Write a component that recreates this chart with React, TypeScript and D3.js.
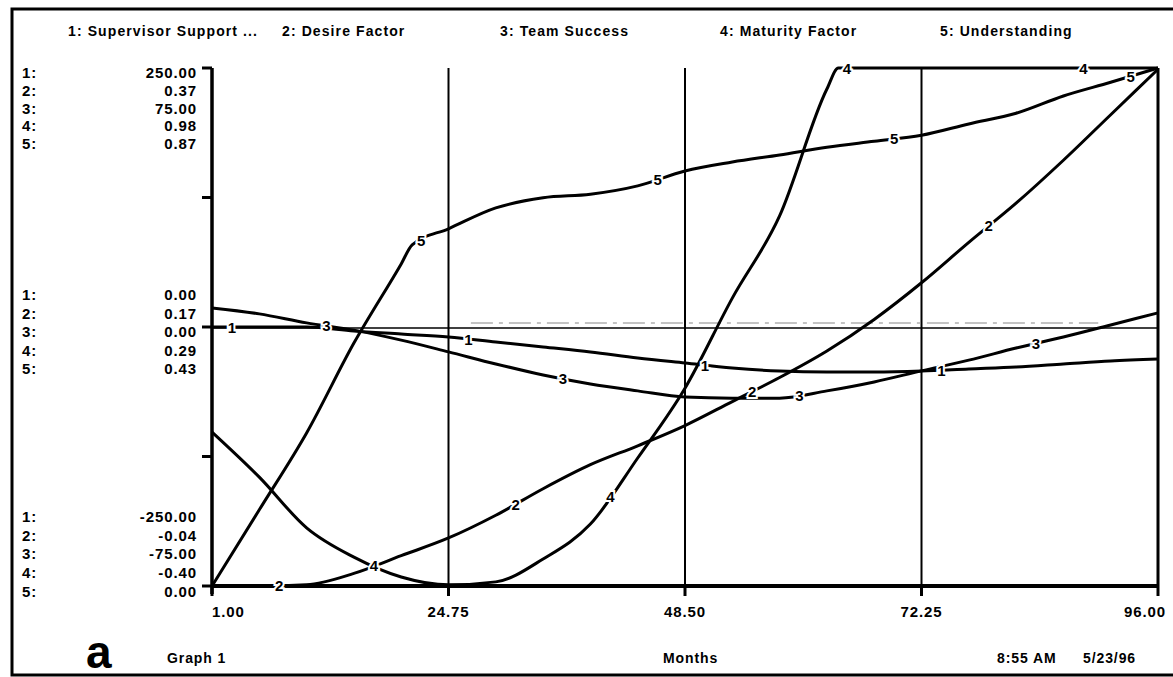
import React from 'react'
import * as d3 from 'd3'

// time axis (months), sampled every 4.75 months like the grid
const months = [1, 5.75, 10.5, 15.25, 20, 24.75, 29.5, 34.25, 39, 43.75, 48.5, 53.25, 58, 62.75, 67.5, 72.25, 77, 81.75, 86.5, 91.25, 96]
// two series need one extra sample where they bend sharply
const understandingMonths = [1, 5.75, 10.5, 15.25, 20, 21.1, 24.75, 29.5, 34.25, 39, 43.75, 48.5, 53.25, 58, 62.75, 67.5, 72.25, 77, 81.75, 86.5, 91.25, 96]
const maturityMonths = [1, 5.75, 10.5, 15.25, 20, 24.75, 29.5, 34.25, 39, 43.75, 48.5, 53.25, 58, 62.75, 63.9, 67.5, 72.25, 77, 81.75, 86.5, 91.25, 96]

const supervisorSupport = [0, 0, 0, -3.9, -6.8, -9.7, -14.5, -19.3, -24.1, -29.9, -34.8, -39.6, -42.5, -43.4, -43.4, -42.5, -40.5, -38.6, -35.7, -32.8, -30.9]
const desireFactor = [-0.04, -0.04, -0.039, -0.03, -0.016, -0.002, 0.016, 0.037, 0.056, 0.071, 0.087, 0.106, 0.125, 0.146, 0.171, 0.2, 0.232, 0.263, 0.297, 0.333, 0.369]
const teamSuccess = [5.5, 3.8, 1.2, -0.9, -3.8, -7.2, -10.7, -13.9, -16.5, -18.5, -20.3, -20.6, -20.6, -18.5, -15.9, -12.7, -9.6, -6.1, -2.9, 0.6, 4.1]
const maturityFactor = [0.01, -0.11, -0.245, -0.323, -0.376, -0.397, -0.389, -0.328, -0.235, -0.059, 0.127, 0.367, 0.586, 0.924, 0.98, 0.98, 0.98, 0.98, 0.98, 0.98, 0.98, 0.98]
const understanding = [0, 0.128, 0.257, 0.408, 0.541, 0.573, 0.6, 0.635, 0.652, 0.658, 0.672, 0.697, 0.712, 0.724, 0.737, 0.747, 0.757, 0.776, 0.794, 0.823, 0.846, 0.87]

const seriesNames = ['Supervisor Support ...', 'Desire Factor', 'Team Success', 'Maturity Factor', 'Understanding']
const scaleMin = [-250, -0.04, -75, -0.4, 0]
const scaleMax = [250, 0.37, 75, 0.98, 0.87]
const scaleMid = [0, 0.17, 0, 0.29, 0.43]
const xTicks = [1, 24.75, 48.5, 72.25, 96]

const plot = { left: 212, right: 1158, top: 68, bottom: 586 }
const legendX = [68, 282, 500, 720, 940]
const font = 'Liberation Sans, Arial, Helvetica, sans-serif'

export default function App() {
  const x = d3.scaleLinear().domain([1, 96]).range([plot.left, plot.right])
  const series = [supervisorSupport, desireFactor, teamSuccess, maturityFactor, understanding]
  const seriesMonths = [months, months, months, maturityMonths, understandingMonths]
  const yScales = series.map((_, i) =>
    d3.scaleLinear().domain([scaleMin[i], scaleMax[i]]).range([plot.bottom, plot.top]))
  const mid = (plot.top + plot.bottom) / 2
  const fmt = (v: number) => v.toFixed(2)

  const lines = series.map((vals, i) => {
    const line = d3.line<number>()
      .x((_, k) => x(seriesMonths[i][k]))
      .y(v => yScales[i](v))
      .curve(d3.curveMonotoneX)
    return <path key={'s' + i} d={line(vals) || ''} fill='none' stroke='black' strokeWidth={3} strokeLinejoin='round' />
  })

  // numbered markers along each curve
  const markers = series.map((vals, i) => {
    const interp = d3.scaleLinear().domain(seriesMonths[i]).range(vals)
    return [0, 1, 2, 3].map(j => {
      const t = 3 + i * 4.75 + j * 23.75
      return (
        <text key={'m' + i + '-' + j} x={x(t)} y={yScales[i](interp(t)) + 5.5}
          textAnchor='middle' fontSize={15} fontWeight='bold' fontFamily={font}
          stroke='white' strokeWidth={4} paintOrder='stroke' fill='black'>
          {i + 1}
        </text>
      )
    })
  })

  const groups = [
    { vals: scaleMax, y0: plot.top + 10, step: 17.8 },
    { vals: scaleMid, y0: mid - 27, step: 18.5 },
    { vals: scaleMin, y0: plot.bottom - 64, step: 18.7 },
  ]

  return (
    <svg width={1173} height={677} style={{ position: 'absolute', left: 0, top: 0, background: 'white' }}>
      <rect x={12} y={9} width={1180} height={666} fill='white' stroke='black' strokeWidth={3} />

      {seriesNames.map((n, i) => (
        <text key={'lg' + i} x={legendX[i]} y={36} fontSize={14} fontWeight='bold' fontFamily={font} letterSpacing={1.1}>
          {(i + 1) + ': ' + n}
        </text>
      ))}

      {groups.map((g, gi) => g.vals.map((v, i) => (
        <g key={'ax' + gi + '-' + i} fontSize={15} fontWeight='bold' fontFamily={font} letterSpacing={0.9}>
          <text x={22} y={g.y0 + i * g.step}>{(i + 1) + ':'}</text>
          <text x={197} y={g.y0 + i * g.step} textAnchor='end'>{fmt(v)}</text>
        </g>
      )))}

      {/* grid */}
      {xTicks.slice(1).map(t => (
        <line key={'g' + t} x1={x(t)} x2={x(t)} y1={plot.top} y2={plot.bottom}
          stroke='black' strokeWidth={t === 96 ? 3 : 2} />
      ))}
      <line x1={plot.left} x2={plot.right} y1={mid + 1} y2={mid + 1} stroke='black' strokeWidth={1.5} />
      <line x1={x(27)} x2={x(90)} y1={mid - 4} y2={mid - 4} stroke='#888' strokeWidth={1} strokeDasharray='22 6 4 6' />

      {/* axes */}
      <line x1={plot.left} x2={plot.left} y1={plot.top} y2={plot.bottom + 8} stroke='black' strokeWidth={3.5} />
      {[0, 0.25, 0.5, 0.75, 1].map(f => (
        <line key={'yt' + f} x1={plot.left - 10} x2={plot.left}
          y1={plot.top + f * (plot.bottom - plot.top)} y2={plot.top + f * (plot.bottom - plot.top)}
          stroke='black' strokeWidth={3} />
      ))}
      <line x1={plot.left} x2={plot.right} y1={plot.bottom} y2={plot.bottom} stroke='black' strokeWidth={4} />
      {xTicks.map((t, i) => (
        <g key={'xt' + t}>
          <line x1={x(t)} x2={x(t)} y1={plot.bottom} y2={plot.bottom + 10} stroke='black' strokeWidth={3} />
          <text x={i === xTicks.length - 1 ? x(t) + 8 : x(t)} y={617}
            textAnchor={i === 0 ? 'start' : i === xTicks.length - 1 ? 'end' : 'middle'}
            fontSize={15} fontWeight='bold' fontFamily={font} letterSpacing={0.9}>
            {fmt(t)}
          </text>
        </g>
      ))}

      {lines}
      {markers}

      {/* footer */}
      <text x={86} y={668} fontSize={46} fontWeight='bold' fontFamily={font}>a</text>
      <g fontSize={14} fontWeight='bold' fontFamily={font} letterSpacing={0.9}>
        <text x={167} y={663}>Graph 1</text>
        <text x={663} y={663}>Months</text>
        <text x={997} y={663}>8:55 AM</text>
        <text x={1083} y={663}>5/23/96</text>
      </g>
    </svg>
  )
}
